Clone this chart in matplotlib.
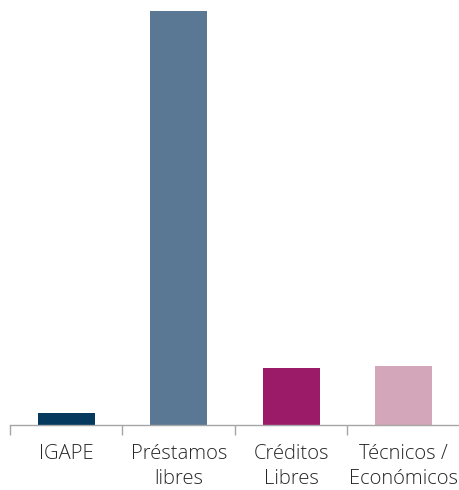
import matplotlib
matplotlib.use("Agg")
import matplotlib.pyplot as plt

categories = ["IGAPE", "Préstamos\nlibres", "Créditos\nLibres", "Técnicos /\nEconómicos"]
values = [2.2, 76.4, 10.5, 10.9]
colors = ["#053a5e", "#5a7893", "#9c1b69", "#d3a6b9"]

W, H = 459, 490
fig = plt.figure(figsize=(W / 100, H / 100), dpi=100)
ax = fig.add_axes([10 / W, 65 / H, 1 - 10 / W + 0.002, (425 - 11) / H])

x = list(range(len(categories)))
ax.bar(x, values, width=0.507, color=colors)
ax.set_xlim(-0.5, len(categories) - 0.5)
ax.set_ylim(0, max(values))

for s in ["top", "right", "left"]:
    ax.spines[s].set_visible(False)
ax.spines["bottom"].set_color("#a6a6a6")
ax.spines["bottom"].set_linewidth(1.0)
ax.set_yticks([])

ax.set_xticks([i - 0.5 for i in x])
ax.set_xticklabels([])
ax.tick_params(axis="x", which="major", length=7, color="#a6a6a6", width=1.0, direction="out")
ax.set_xticks(x, minor=True)
ax.set_xticklabels(categories, minor=True, fontsize=14.5, color="#262626",
                   family="Open Sans", fontweight="light", linespacing=1.3)
ax.tick_params(axis="x", which="minor", length=0, pad=14)

fig.savefig("out.png", dpi=100)
